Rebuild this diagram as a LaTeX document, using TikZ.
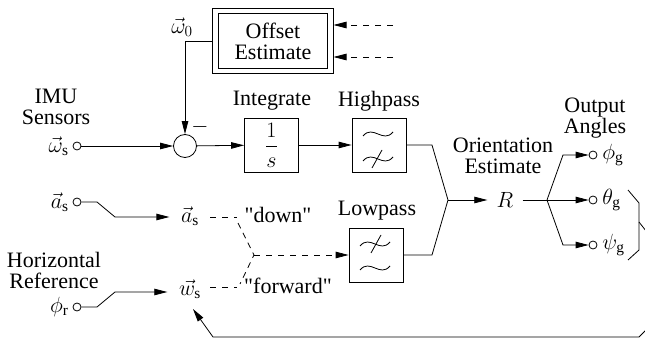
\RequirePackage{fix-cm}
\documentclass[tikz,border=0pt]{standalone}
\usepackage{fontspec}
\setmainfont{Liberation Serif}[Ligatures=TeXOff]
\usetikzlibrary{arrows.meta,calc}
\tikzset{
  blk/.style={draw, minimum width=54pt, minimum height=54pt, inner sep=0pt},
  port/.style={circle, draw, minimum size=8pt, inner sep=0pt},
  arr/.style={-{Triangle[length=13pt,width=6.5pt]}},
  dsh/.style={dash pattern=on 6pt off 6pt},
  tw/.pic={\draw (-15,2) .. controls (-5,-10) and (5,10) .. (15,-2);},
  sl/.pic={\draw (5,-9) -- (-5,9);},
}
\begin{document}
\begin{tikzpicture}[x=1pt,y=-1pt,line width=0.8pt,font=\fontsize{22}{21}\selectfont]
\useasboundingbox (0,0) rectangle (645,339);
\clip (0,0) rectangle (645,339);

% offset estimate
\node[draw, double, double distance=4.5pt, minimum width=115pt, minimum height=60pt,
      outer sep=3pt, align=center, inner sep=0pt] (off) at (273,41) {Offset\\Estimate};
\coordinate (d1) at (393,25);
\coordinate (d2) at (393,57);
\draw[dsh,arr] (d1) -- (off.east |- d1);
\draw[dsh,arr] (d2) -- (off.east |- d2);
\node (w0) at (182,27) {$\vec{\omega}_0$};

% IMU input
\node[align=center] (imu) at (56,107) {IMU\\Sensors};
\node[port] (pw) at (77,146) {};
\node[anchor=east, inner sep=1pt] (lws) at (70,146) {$\vec{\omega}_{\mathrm{s}}$};
\node[circle, draw, minimum size=23pt, inner sep=0pt] (sum) at (185,146) {};
\node (minus) at (200,127) {$-$};
\draw[arr] (pw) -- (sum);
\draw[arr] (off.west) -| (sum.north);

% integrate
\node[blk] (int) at (271.5,145) {$\displaystyle\frac{1}{s}$};
\node (intl) at (272,101) {Integrate};
\draw[arr] (sum) -- (int);

% highpass
\node[blk] (hp) at (379,145) {};
\node (hpl) at (379,101) {Highpass};
\pic at (378,134) {tw};
\pic at (378,159) {tw};
\pic at (377,159) {sl};
\draw[arr] (int) -- (hp);

% lowpass
\node[blk] (lp) at (376,255) {};
\node (lpl) at (377,211) {Lowpass};
\pic at (375,244) {tw};
\pic at (376,244) {sl};
\pic at (375,268) {tw};

% accel input
\node[port] (pa) at (77,202) {};
\node[anchor=east, inner sep=1pt] (la) at (70,202) {$\vec{a}_{\mathrm{s}}$};
\node (as) at (190,216) {$\vec{a}_{\mathrm{s}}$};
\draw[arr] (pa) -- (97,202) -- (115,217) -- ([xshift=-8pt]as.west |- 0,217);
\node (down) at (278,215) {"down"};

% horizontal reference
\node[align=center] (hr) at (54,270) {Horizontal\\Reference};
\node[port] (pr) at (77,307) {};
\node[anchor=east, inner sep=1pt] (lr) at (70,307) {$\phi_{\mathrm{r}}$};
\node (ws) at (190,289) {$\vec{w}_{\mathrm{s}}$};
\draw[arr] (pr) -- (97,307) -- (115,292) -- ([xshift=-8pt]ws.west |- 0,292);
\node (fwd) at (288,286) {"forward"};

% dashed Y
\coordinate (yt) at (238,223);
\coordinate (yv) at (254,255);
\coordinate (yb) at (240,284);
\draw[dsh] (210,217) -- (237,217);
\draw[dsh] (210,287) -- (237,287);
\draw[dash pattern=on 6pt off 5pt] (yt) -- (yv) -- (yb);
\draw[dsh,arr] (yv) -- (lp.west);

% orientation estimate
\coordinate (jin) at (448,200);
\draw (hp.east) -- (432,145) -- (jin);
\draw (lp.east) -- (432,255) -- (jin);
\node[align=center] (oe) at (503,156) {Orientation\\Estimate};
\node[inner xsep=9pt] (R) at (505,200) {$R$};
\draw[arr] (jin) -- (R.west);
\coordinate (jout) at (547,200);
\draw (R.east) -- (jout);

% outputs
\node[align=center] (oa) at (595,118) {Output\\Angles};
\node[port] (o1) at (593,155) {};
\node[port] (o2) at (593,200) {};
\node[port] (o3) at (593,245) {};
\node[anchor=west, inner sep=1pt] (l1) at (601,155) {$\phi_{\mathrm{g}}$};
\node[anchor=west, inner sep=1pt] (l2) at (601,200) {$\theta_{\mathrm{g}}$};
\node[anchor=west, inner sep=1pt] (l3) at (601,245) {$\psi_{\mathrm{g}}$};
\draw[arr] (jout) -- (563,155) -- (o1);
\draw[arr] (jout) -- (o2);
\draw[arr] (jout) -- (563,245) -- (o3);

% bracket and feedback
\draw (628,190) -- (639,203) -- (639,250) -- (628,260);
\coordinate (fb) at (639,222);
\coordinate (fe) at (193,309);
\draw[arr] (fb) -- (650,236) -- (650,326) -- (639,337) -- (213,337) -- (fe);
\end{tikzpicture}
\end{document}
